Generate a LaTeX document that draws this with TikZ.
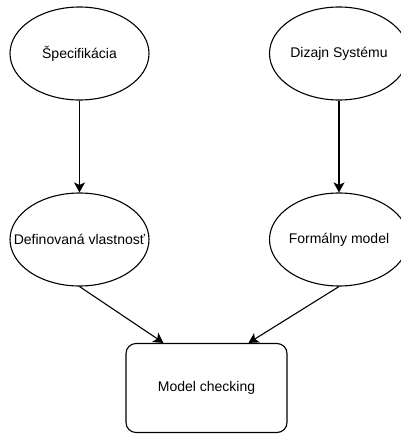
\documentclass[tikz,border=0pt]{standalone}
\usepackage{fontspec}
\setmainfont{Liberation Sans}
\usetikzlibrary{positioning,shapes.geometric,arrows.meta}
\tikzstyle{diagram} = [x = 1pt, y = -1pt, line width = 1.1pt]
\tikzstyle{stageText} = [font=\fontsize{14}{16}\selectfont]
\tikzstyle{stageEllipse} = [draw, ellipse, minimum width = 139pt, minimum height = 93pt, inner sep = 0pt]
\tikzstyle{checkBox} = [draw, rounded corners = 10pt, minimum width = 161pt, minimum height = 89pt, stageText]
\tikzstyle{flowArrow} = [-{Stealth[length = 10pt, width = 11pt, inset = 2.5pt]}]
\begin{document}
\begin{tikzpicture}[diagram]
  \useasboundingbox (0,0) rectangle (401,434);
  % top row
  \node [stageEllipse, label={[stageText]center:Špecifikácia}] (spec) at (79.5,53.5) {};
  \node [stageEllipse, label={[stageText]center:Dizajn Systému}] (design) at (339,53.5) {};
  % middle row
  \node [stageEllipse, label={[stageText]center:Definovaná vlastnosť}] (property) at (79.5,239.5) {};
  \node [stageEllipse, label={[stageText]center:Formálny model}] (formalModel) at (339,239.5) {};
  % result
  \node [checkBox] (check) at (206.5,388) {Model checking};
  \draw [flowArrow] (spec.south) -- (property.north);
  \draw [flowArrow] (design.south) -- (formalModel.north);
  \draw [flowArrow] (property.south) -- ([xshift=-43pt]check.north);
  \draw [flowArrow] (formalModel.south) -- ([xshift=42pt]check.north);
\end{tikzpicture}
\end{document}
